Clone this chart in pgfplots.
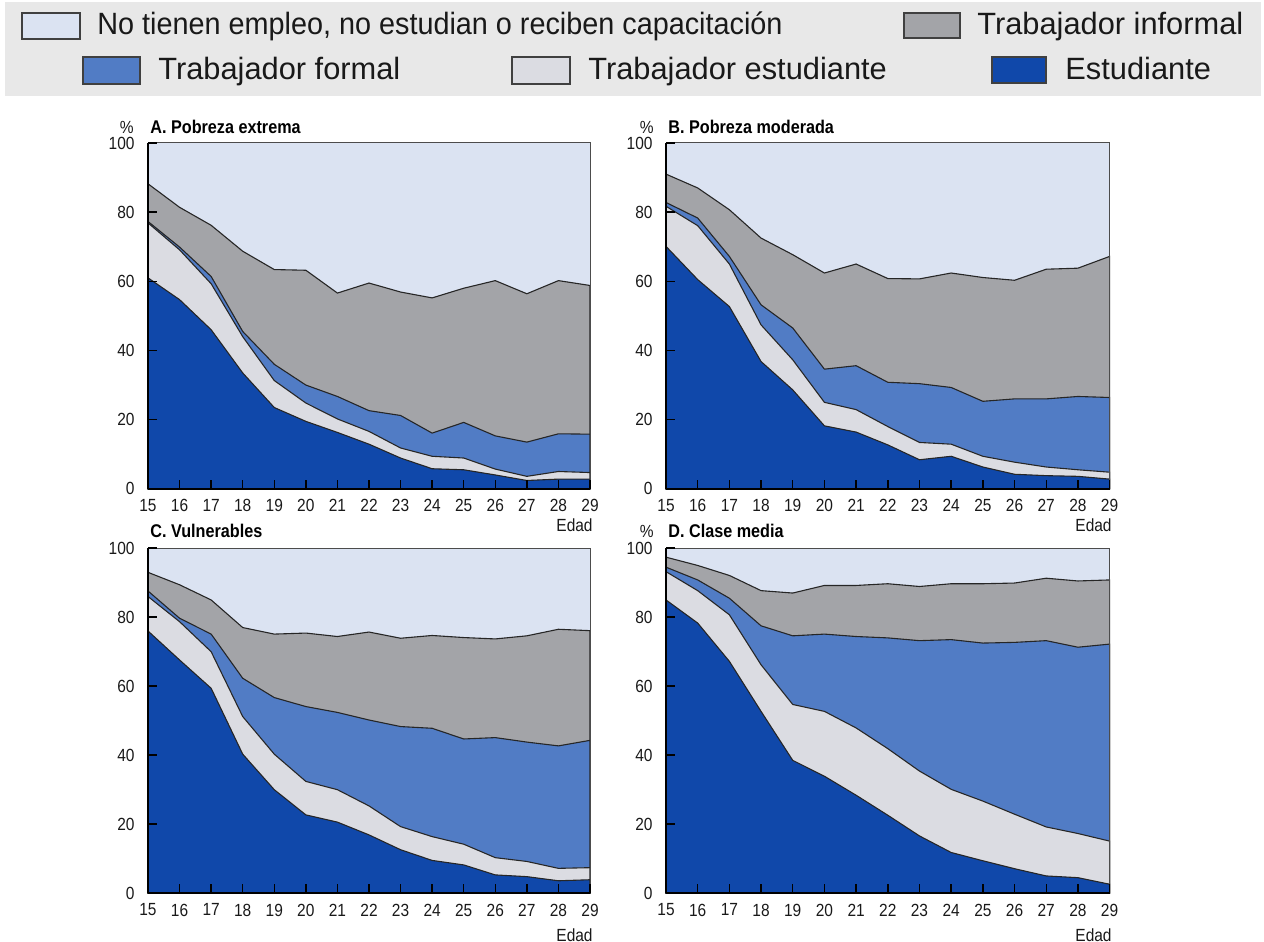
\documentclass[border=0pt]{standalone}
\usepackage{pgfplots}
\pgfplotsset{compat=1.18}
\usepackage{pgfplotstable}
\usepackage{fontspec}
\setmainfont{Liberation Sans}
\newfontfamily\cond{Liberation Sans}[FakeStretch=0.88]
\newfontfamily\legA{Liberation Sans}[FakeStretch=0.935]
\definecolor{cest}{RGB}{16,72,170}
\definecolor{ctest}{RGB}{219,220,226}
\definecolor{cform}{RGB}{81,124,197}
\definecolor{cinf}{RGB}{163,164,168}
\definecolor{cnini}{RGB}{219,227,242}
\definecolor{legbg}{RGB}{232,232,232}

% cumulative tops of each layer (Estudiante, +Trab. estudiante, +Trab. formal, +Trab. informal)
\pgfplotstableread{
age est test form inf
15 61.0 76.9 77.3 88.2
16 54.7 69.1 69.9 81.4
17 46.0 59.3 61.4 76.2
18 33.5 44.0 45.5 68.7
19 23.5 31.3 36.0 63.4
20 19.5 24.8 30.0 63.2
21 16.3 20.2 26.7 56.6
22 12.9 16.6 22.6 59.5
23 8.9 11.8 21.2 56.9
24 5.8 9.4 16.1 55.2
25 5.5 8.9 19.2 58.0
26 4.0 5.7 15.3 60.2
27 2.4 3.6 13.5 56.4
28 2.8 5.0 15.9 60.2
29 2.8 4.7 15.8 58.8
}\tA
\pgfplotstableread{
age est test form inf
15 70.1 81.7 82.8 91.0
16 60.5 76.1 78.3 87.0
17 52.7 65.0 67.2 80.7
18 36.8 47.4 53.2 72.5
19 28.6 37.3 46.5 67.7
20 18.2 25.0 34.6 62.4
21 16.4 22.9 35.6 65.0
22 12.7 18.0 30.8 60.8
23 8.4 13.4 30.4 60.7
24 9.4 12.9 29.3 62.4
25 6.3 9.4 25.3 61.1
26 4.2 7.7 26.0 60.3
27 3.8 6.3 26.0 63.5
28 3.6 5.5 26.7 63.8
29 2.8 4.8 26.4 67.2
}\tB
\pgfplotstableread{
age est test form inf
15 76.0 86.0 87.6 93.0
16 67.6 78.7 79.7 89.4
17 59.4 70.0 75.1 85.0
18 40.3 51.2 62.3 77.0
19 30.0 40.3 56.7 75.1
20 22.7 32.4 54.1 75.4
21 20.6 30.0 52.4 74.4
22 16.9 25.3 50.2 75.7
23 12.6 19.3 48.3 73.9
24 9.5 16.4 47.8 74.7
25 8.2 14.2 44.7 74.1
26 5.3 10.3 45.1 73.7
27 4.8 9.2 43.8 74.6
28 3.6 7.2 42.7 76.5
29 3.9 7.4 44.3 76.1
}\tC
\pgfplotstableread{
age est test form inf
15 85.0 93.2 94.5 97.4
16 78.3 87.7 90.8 95.0
17 67.2 80.7 85.5 92.1
18 52.7 66.2 77.5 87.7
19 38.5 54.7 74.6 87.0
20 33.9 52.7 75.1 89.2
21 28.4 47.9 74.4 89.2
22 22.6 41.9 74.0 89.7
23 16.6 35.4 73.2 88.9
24 11.8 30.1 73.5 89.7
25 9.4 26.7 72.5 89.7
26 7.1 22.9 72.7 89.9
27 5.0 19.2 73.2 91.3
28 4.5 17.3 71.3 90.5
29 2.6 15.1 72.2 90.8
}\tD

\pgfplotsset{
  panel/.style={
    scale only axis,
    xmin=15, xmax=29, ymin=0, ymax=100,
    xtick={15,...,29}, ytick={0,20,...,100},
    axis x line*=bottom, axis y line*=left,
    axis line style={-, black, line width=0.9pt},
    tick align=inside,
    major tick length=4.5pt,
    tick style={black, line width=0.7pt},
    axis background/.style={fill=cnini},
    ticklabel style={font=\cond\fontsize{8.8}{10}\selectfont, text=black!90},
    /pgf/number format/assume math mode=true,
    yticklabel style={xshift=-3.2pt},
    xticklabel style={yshift=-1.8pt},
    axis on top,
    clip=false,
  },
  lay/.style={draw=black!85, line width=0.55pt},
}
\newcommand{\layers}[1]{%
  \addplot[lay, fill=cinf] table[x=age,y=inf]{#1} \closedcycle;
  \addplot[lay, fill=cform] table[x=age,y=form]{#1} \closedcycle;
  \addplot[lay, fill=ctest] table[x=age,y=test]{#1} \closedcycle;
  \addplot[lay, fill=cest] table[x=age,y=est]{#1} \closedcycle;
  \draw[black!70, line width=0.5pt] (rel axis cs:0,1) -- (rel axis cs:1,1) -- (rel axis cs:1,0);
}

\begin{document}
\begin{tikzpicture}
\path[use as bounding box] (0,0) rectangle (632pt,471pt);

% panels
\begin{axis}[panel, at={(74pt,226.6pt)}, anchor=south west, width=221pt, height=172.9pt]
\layers{\tA}
\end{axis}
\begin{axis}[panel, at={(333pt,226.6pt)}, anchor=south west, width=221.8pt, height=172.9pt]
\layers{\tB}
\end{axis}
\begin{axis}[panel, at={(74pt,24.4pt)}, anchor=south west, width=221pt, height=172.5pt]
\layers{\tC}
\end{axis}
\begin{axis}[panel, at={(333pt,24.4pt)}, anchor=south west, width=221.8pt, height=172.5pt]
\layers{\tD}
\end{axis}

\begin{scope}[yshift=471pt, x=0.5pt, y=-0.5pt]
  % legend
  \fill[legbg] (5,2) rectangle (1261,96);
  \tikzset{sw/.style={draw=black!75, line width=0.8pt}}
  \tikzset{lt/.style={anchor=base west, inner sep=0pt, font=\fontsize{15.4}{17}\selectfont, text=black!90}}
  \filldraw[sw, fill=cnini] (22,13) rectangle (80,39);
  \node[lt, font=\legA\fontsize{15.4}{17}\selectfont] at (97,35) {No tienen empleo, no estudian o reciben capacitación};
  \filldraw[sw, fill=cinf] (904,13) rectangle (960,38);
  \node[lt] at (977,35) {Trabajador informal};
  \filldraw[sw, fill=cform] (83,57) rectangle (140,84);
  \node[lt] at (158,80) {Trabajador formal};
  \filldraw[sw, fill=ctest] (512,57) rectangle (570,84);
  \node[lt] at (588,80) {Trabajador estudiante};
  \filldraw[sw, fill=cest] (992,57) rectangle (1046,83);
  \node[lt] at (1065,80) {Estudiante};

  % panel labels
  \tikzset{pt/.style={anchor=west, inner sep=0pt, font=\cond\bfseries\fontsize{9.2}{11}\selectfont}}
  \tikzset{pc/.style={anchor=east, inner sep=0pt, font=\cond\fontsize{8.8}{10}\selectfont, text=black!90}}
  \node[pc] at (134,127) {\%};
  \node[pt] at (150,127) {A. Pobreza extrema};
  \node[pc] at (654,127) {\%};
  \node[pt] at (668,127) {B. Pobreza moderada};
  \node[pt] at (150,531) {C. Vulnerables};
  \node[pc] at (654,531) {\%};
  \node[pt] at (668,531) {D. Clase media};
  \node[pc] at (593,525) {Edad};
  \node[pc] at (1112,525) {Edad};
  \node[pc] at (593,935) {Edad};
  \node[pc] at (1112,935) {Edad};
\end{scope}
\end{tikzpicture}
\end{document}
